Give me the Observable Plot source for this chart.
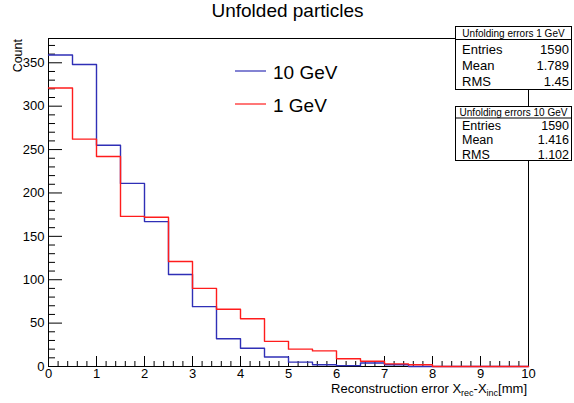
<!DOCTYPE html>
<html>
<head>
<meta charset="utf-8">
<script src="https://cdn.jsdelivr.net/npm/d3@7"></script>
<script src="https://cdn.jsdelivr.net/npm/@observablehq/plot@0.6"></script>
<style>
  body { margin: 0; background: #fff; }
  #chart { width: 574px; height: 403px; }
</style>
</head>
<body>
<div id="chart"></div>
<script>
// Histogram binning: 20 bins of 0.5 mm from 0 to 10 mm
const binWidth = 0.5;
const xRange = [0, 10];

// Bin contents for each beam energy
const counts10GeV = [359, 348, 255, 211, 167, 106, 69, 32, 21, 11, 5, 2, 1, 4, 2, 0, 0, 0, 0, 0];
const counts1GeV  = [321, 262, 242, 173, 172, 121, 90, 66, 55, 29, 20, 18, 9, 6, 3, 2, 0, 0, 0, 0];

// Axis ticks
const xMajorTicks = [0, 1, 2, 3, 4, 5, 6, 7, 8, 9, 10];
const yMajorTicks = [0, 50, 100, 150, 200, 250, 300, 350];

// Legend and statistics boxes
const legendLabels = ["10 GeV", "1 GeV"];
const statsTitles = ["Unfolding errors 1 GeV", "Unfolding errors 10 GeV"];
const statsNames = ["Entries", "Mean", "RMS"];
const statsValues1GeV = ["1590", "1.789", "1.45"];
const statsValues10GeV = ["1590", "1.416", "1.102"];

const blue = "#2f2fb6";
const red = "#ff1c1c";

// Outline of a histogram as bin edges for a step-after line
function outline(counts) {
  const pts = counts.map((c, i) => ({x: xRange[0] + i * binWidth, y: c}));
  pts.push({x: xRange[0] + counts.length * binWidth, y: counts[counts.length - 1]});
  return pts;
}

const xMinorTicks = d3.range(0, 10.0001, 0.2).filter(v => Math.abs(v - Math.round(v)) > 1e-6);
const yMinorTicks = d3.range(0, 371, 10).filter(v => v % 50 !== 0);

const W = 574, H = 403;
const mL = 48, mR = 46, mT = 38, mB = 37;
const frameW = W - mL - mR, frameH = H - mT - mB;

const plot = Plot.plot({
  width: W, height: H,
  marginLeft: mL, marginRight: mR, marginTop: mT, marginBottom: mB,
  x: {domain: xRange},
  y: {domain: [0, 378]},
  style: {fontFamily: "'Liberation Sans', Arial, sans-serif", fontSize: "13px", color: "#000", background: "#fff", overflow: "visible"},
  marks: [
    Plot.frame({stroke: "#000", strokeWidth: 1}),
    // ticks drawn inside the frame
    Plot.tickY(yMinorTicks, {y: d => d, insetRight: frameW - 7, stroke: "#000", strokeWidth: 1}),
    Plot.tickY(yMajorTicks, {y: d => d, insetRight: frameW - 14, stroke: "#000", strokeWidth: 1}),
    Plot.tickX(xMinorTicks, {x: d => d, insetTop: frameH - 5, stroke: "#000", strokeWidth: 1}),
    Plot.tickX(xMajorTicks, {x: d => d, insetTop: frameH - 10, stroke: "#000", strokeWidth: 1}),
    Plot.axisY({ticks: yMajorTicks, tickSize: 0, tickPadding: 4, label: null, tickFormat: d => String(d)}),
    Plot.axisX({ticks: xMajorTicks, tickSize: 0, tickPadding: 2.5, label: null, tickFormat: d => String(d)}),
    Plot.lineY(outline(counts10GeV), {x: "x", y: "y", curve: "step-after", stroke: blue, strokeWidth: 1.4}),
    Plot.lineY(outline(counts1GeV), {x: "x", y: "y", curve: "step-after", stroke: red, strokeWidth: 1.4})
  ]
});

document.getElementById("chart").appendChild(plot);

// Annotations: title, axis titles, legend, statistics boxes
const svg = d3.select(plot);
const g = svg.append("g").attr("fill", "#000").attr("text-anchor", "start");

g.append("text")
  .attr("x", 287.5).attr("y", 17)
  .attr("text-anchor", "middle")
  .style("font-size", "19px")
  .text("Unfolded particles");

const xt = g.append("text")
  .attr("x", 527).attr("y", 392.5)
  .attr("text-anchor", "end")
  .style("font-size", "13px");
xt.append("tspan").text("Reconstruction error X");
xt.append("tspan").attr("dy", 3).style("font-size", "9px").text("rec");
xt.append("tspan").attr("dy", -3).text("-X");
xt.append("tspan").attr("dy", 3).style("font-size", "9px").text("inc");
xt.append("tspan").attr("dy", -3).text("[mm]");

g.append("text")
  .attr("transform", "translate(21.5,39) rotate(-90)")
  .attr("text-anchor", "end")
  .style("font-size", "12.5px")
  .text("Count");

// Legend
const legendColors = [blue, red];
const legendY = [71, 104];
legendLabels.forEach((lab, i) => {
  g.append("line")
    .attr("x1", 235).attr("x2", 266)
    .attr("y1", legendY[i]).attr("y2", legendY[i])
    .attr("stroke", legendColors[i]).attr("stroke-width", 1.2);
  g.append("text")
    .attr("x", 273).attr("y", legendY[i] + 7.5)
    .attr("text-anchor", "start")
    .style("font-size", "19px")
    .text(lab);
});

// Statistics boxes
function statsBox(top, headerBottom, bottom, title, values, rowBaselines, rowFont) {
  const left = 455.5, right = 571.5;
  g.append("rect")
    .attr("x", left).attr("y", top)
    .attr("width", right - left).attr("height", bottom - top)
    .attr("fill", "#fff").attr("stroke", "#000").attr("stroke-width", 1);
  g.append("line")
    .attr("x1", left).attr("x2", right)
    .attr("y1", headerBottom).attr("y2", headerBottom)
    .attr("stroke", "#000").attr("stroke-width", 1);
  g.append("text")
    .attr("x", (left + right) / 2).attr("y", headerBottom - 2.5)
    .attr("text-anchor", "middle")
    .style("font-size", "10px")
    .text(title);
  statsNames.forEach((name, i) => {
    g.append("text")
      .attr("x", 462).attr("y", rowBaselines[i])
      .attr("text-anchor", "start")
      .style("font-size", rowFont)
      .text(name);
    g.append("text")
      .attr("x", 569).attr("y", rowBaselines[i])
      .attr("text-anchor", "end")
      .style("font-size", rowFont)
      .text(values[i]);
  });
}

statsBox(26.5, 39.5, 89.5, statsTitles[0], statsValues1GeV, [54, 70, 86], "13px");
statsBox(106.5, 118, 160.5, statsTitles[1], statsValues10GeV, [129.5, 144, 158.5], "12.5px");
</script>
</body>
</html>
